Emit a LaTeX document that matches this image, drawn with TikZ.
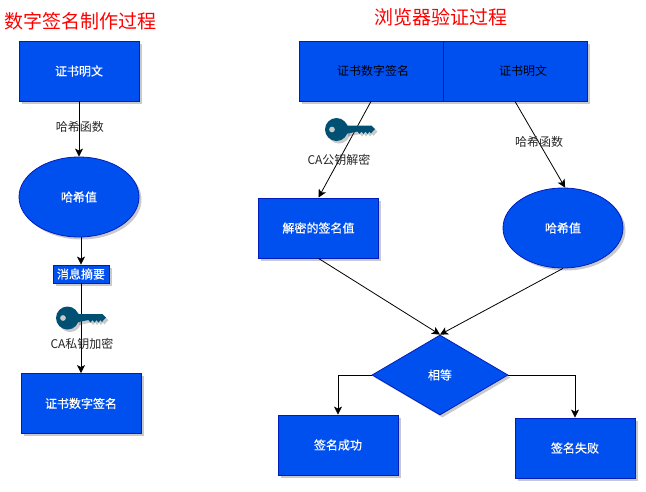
\documentclass[tikz,border=0pt]{standalone}
\usepackage{fontspec}
\setmainfont{Noto Sans CJK SC}
\newfontfamily\boxfont[FakeBold=0.3]{Noto Sans CJK SC}
\usetikzlibrary{arrows.meta,shapes.geometric,shadows}
\definecolor{Cobalt}{RGB}{0,80,239}
\definecolor{CobaltLine}{RGB}{0,29,188}
\definecolor{KeyBlue}{RGB}{0,80,115}
\tikzset{
  softshadow/.style={drop shadow={shadow xshift=2.5pt, shadow yshift=-2.5pt, opacity=0.3, fill=black!70}},
  proc/.style={draw=CobaltLine, fill=Cobalt, text=white, line width=0.8pt, align=center, inner sep=0pt, minimum width=120pt, minimum height=60pt, font=\boxfont\fontsize{12}{14}\selectfont, softshadow},
  halfbox/.style={proc, text=black, minimum width=144pt, font=\fontsize{12}{14}\selectfont},
  tagbox/.style={proc, minimum width=56pt, minimum height=18pt},
  oval/.style={proc, ellipse, minimum width=120pt, minimum height=80pt},
  decision/.style={draw=CobaltLine, fill=Cobalt, text=white, diamond, aspect=1.7, line width=0.8pt, inner sep=0pt, minimum width=136pt, minimum height=80pt, font=\boxfont\fontsize{12}{14}\selectfont, softshadow},
  arrow/.style={-{Stealth[length=8pt,width=8pt,inset=2pt]}, line width=0.8pt, draw=black},
  lbl/.style={text=black!85, inner sep=0pt},
  heading/.style={text=red, inner sep=0pt, font=\fontsize{19}{22}\selectfont},
  pics/cakey/.style={code={
    \fill[KeyBlue, even odd rule, softshadow] (0,0) circle (11.5) (-4.5,0) circle (3);
    \fill[KeyBlue, softshadow] (9,-4) -- (35,-4) -- (38.5,-0.5) -- (36,2) -- (34.5,4) -- (33,2) -- (31,4.5) -- (29,2)
      -- (27,4.5) -- (25,2) -- (23,4.5) -- (21,2) -- (9,4.5) -- cycle;
  }}
}

\begin{document}
\begin{tikzpicture}[x=1pt,y=-1pt, font=\fontsize{12}{14}\selectfont]
\useasboundingbox (0,0) rectangle (646,491);
\node[heading] (title-make) at (81,21) {数字签名制作过程};
\node[heading] (title-check) at (440.5,17) {浏览器验证过程};

\node[proc] (plain) at (79,71) {证书明文};
\node[oval] (digest) at (79,197) {哈希值};
\node[tagbox] (summary) at (81,274) {消息摘要};
\node[proc] (signed) at (81,403.5) {证书数字签名};

\node[halfbox] (signbox) at (371,71) {\hspace*{4pt}证书数字签名};
\node[halfbox] (plainbox) at (515,71) {\hspace*{16pt}证书明文};
\node[proc] (decrypted) at (318.5,228) {解密的签名值};
\node[oval] (hashval) at (563,228) {哈希值};
\node[decision] (equal) at (440,375) {相等};
\node[proc] (success) at (338,445) {签名成功};
\node[proc] (failure) at (575,448) {签名失败};

\draw[arrow] (plain) -- (digest);
\draw[arrow] (digest.south -| summary.north) -- (summary);
\draw[arrow] (summary) -- (signed);
\draw[arrow] (signbox.south) -- (decrypted.north);
\draw[arrow] (plainbox.south) -- (hashval.87);
\draw[arrow] (decrypted.south) -- (equal.north);
\draw[arrow] (hashval.south) -- (equal.north);
\draw[arrow] (equal.west) -| (success.north);
\draw[arrow] (equal.east) -| (failure.north);

\node[lbl] (hash-left) at (80,127) {哈希函数};
\node[lbl] (priv-label) at (82,344) {CA私钥加密};
\node[lbl] (pub-label) at (339,160) {CA公钥解密};
\node[lbl] (hash-right) at (539,142) {哈希函数};

\pic at (67.5,318) {cakey};
\pic at (336.5,129.5) {cakey};
\end{tikzpicture}
\end{document}
